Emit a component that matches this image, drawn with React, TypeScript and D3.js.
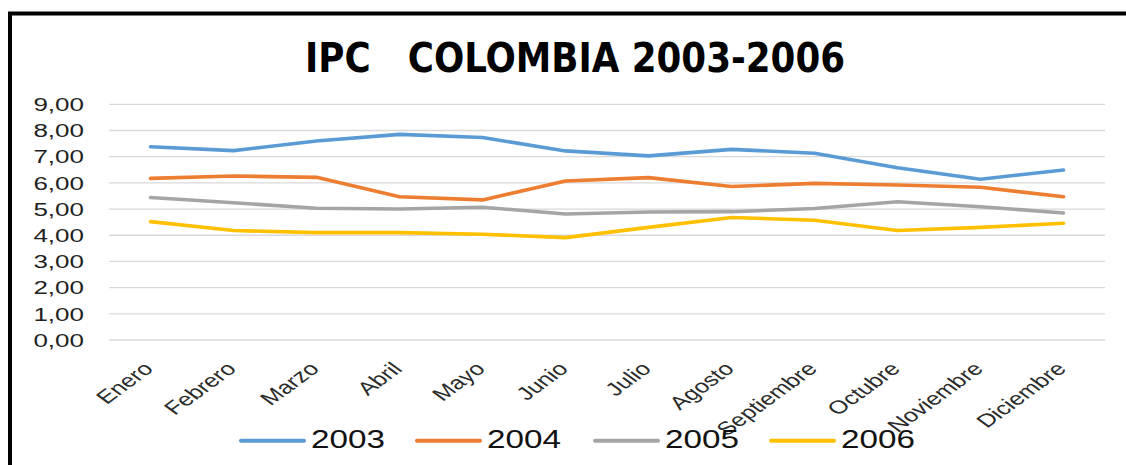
import React from "react";
import * as d3 from "d3";

const months = ["Enero","Febrero","Marzo","Abril","Mayo","Junio","Julio","Agosto","Septiembre","Octubre","Noviembre","Diciembre"];
const s2003 = [7.38,7.23,7.60,7.85,7.73,7.22,7.03,7.28,7.13,6.58,6.14,6.49];
const s2004 = [6.17,6.26,6.21,5.47,5.35,6.07,6.20,5.86,5.98,5.92,5.83,5.47];
const s2005 = [5.44,5.24,5.03,5.00,5.07,4.81,4.89,4.90,5.02,5.28,5.09,4.85];
const s2006 = [4.52,4.18,4.10,4.10,4.04,3.91,4.30,4.68,4.57,4.18,4.30,4.46];
const seriesNames = ["2003","2004","2005","2006"];
const colors = ["#5B9BD5","#ED7D31","#A5A5A5","#FFC000"];
const yTicks = [0,1,2,3,4,5,6,7,8,9];
const title = "IPC   COLOMBIA 2003-2006";

const W = 1126, H = 465;

export default function App() {
  const series = [s2003, s2004, s2005, s2006];
  const x = d3.scalePoint<string>().domain(months).range([109, 1105]).padding(0.5);
  const y = d3.scaleLinear().domain([0, 9]).range([340, 104.3]);
  const line = d3.line<number>().x((_, i) => x(months[i]) as number).y(d => y(d));
  const fmt = (v: number) => v.toFixed(2).replace(".", ",");
  const legendX = [241, 417, 595, 771];
  const sx = 1.37;

  return (
    <svg width={W} height={H} style={{ position: "absolute", left: 0, top: 0, background: "#fff" }}>
      <rect x={0} y={0} width={W} height={H} fill="#fff" />
      <path d={`M10,${H + 5} L10,13.5 L${W + 5},13.5`} fill="none" stroke="#000" strokeWidth={4} />
      <text x={305} y={72} textLength={540} lengthAdjust="spacingAndGlyphs"
        style={{ whiteSpace: "pre" }}
        fontFamily="'Liberation Sans Narrow','DejaVu Sans Condensed','Liberation Sans',sans-serif"
        fontWeight="bold" fontSize={40} fill="#000">{title}</text>
      {yTicks.map(t => (
        <g key={t}>
          <line x1={109} x2={1105} y1={y(t)} y2={y(t)} stroke="#D9D9D9" strokeWidth={1.3} />
          <text transform={`translate(84,${y(t) + 6.7}) scale(${sx},1)`} textAnchor="end"
            fontFamily="'Liberation Sans',Arial,sans-serif" fontSize={19} fill="#1f1f1f">{fmt(t)}</text>
        </g>
      ))}
      {series.map((s, k) => (
        <path key={k} d={line(s) || ""} fill="none" stroke={colors[k]} strokeWidth={3.6}
          strokeLinejoin="round" strokeLinecap="round" />
      ))}
      {months.map(m => (
        <text key={m} transform={`translate(${(x(m) as number) + 4},370) scale(1.37,1) rotate(-45)`}
          textAnchor="end" fontFamily="'Liberation Sans',Arial,sans-serif" fontSize={18.5} fill="#2a2a2a">{m}</text>
      ))}
      {seriesNames.map((n, k) => (
        <g key={n}>
          <line x1={legendX[k]} x2={legendX[k] + 63} y1={440.7} y2={440.7} stroke={colors[k]} strokeWidth={4} strokeLinecap="round" />
          <text transform={`translate(${legendX[k] + 70},448) scale(1.33,1)`}
            fontFamily="'Liberation Sans',Arial,sans-serif" fontSize={25} fill="#111">{n}</text>
        </g>
      ))}
    </svg>
  );
}
